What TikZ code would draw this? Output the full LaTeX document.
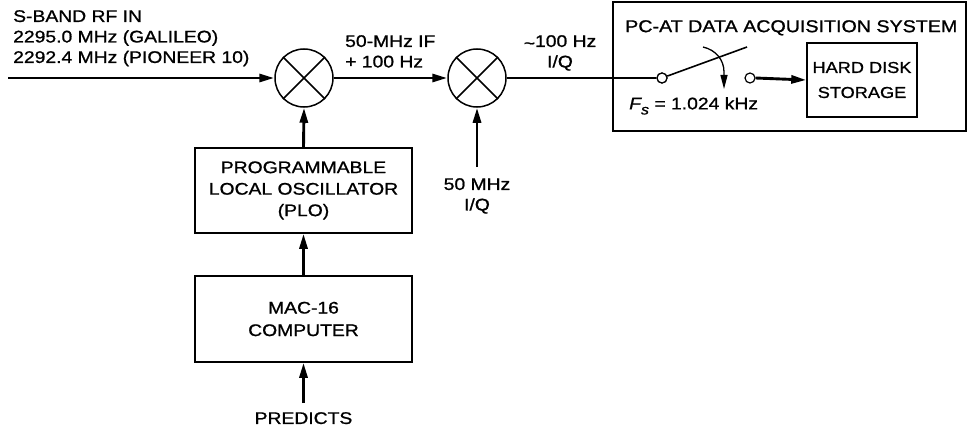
\documentclass[tikz,border=0pt]{standalone}
\usepackage{fontspec}
\setmainfont{Liberation Sans}[FakeStretch=1.15,FakeBold=1]
\usetikzlibrary{arrows.meta}
\begin{document}
\begin{tikzpicture}[x=1pt,y=-1pt,
  lbl/.style={inner sep=0pt,font=\fontsize{16.8}{20.5}\selectfont},
  blk/.style={draw,line width=1.5pt,inner sep=0pt,font=\fontsize{16.8}{21.5}\selectfont,align=center},
  mix/.style={draw,circle,line width=1.5pt,minimum size=58pt,inner sep=0pt},
  swc/.style={draw,circle,line width=1.2pt,minimum size=10pt,inner sep=0pt,fill=white},
  sig/.style={line width=2.9pt},
  sarr/.style={line width=2.9pt,-{Triangle[length=15pt,width=8pt]}},
  tarr/.style={line width=1.3pt,-{Triangle[length=14pt,width=7pt]}}]
\useasboundingbox (0,0) rectangle (968,433);
% blocks
\node[mix] (m1) at (304,78) {};
\node[mix] (m2) at (477,78) {};
\draw[line width=1.5pt] (m1.45)--(m1.225) (m1.135)--(m1.315);
\draw[line width=1.5pt] (m2.45)--(m2.225) (m2.135)--(m2.315);
\node[blk,minimum width=217pt,minimum height=85pt] (plo) at (303.5,190.5)
  {PROGRAMMABLE\\LOCAL OSCILLATOR\\(PLO)};
\node[blk,minimum width=217pt,minimum height=86pt,font=\fontsize{16.8}{22.5}\selectfont] (mac) at (303.5,319)
  {MAC-16\\COMPUTER};
\node[blk,minimum width=353pt,minimum height=129pt] (acq) at (789.5,66.5) {};
\node[blk,minimum width=110pt,minimum height=74pt,font=\fontsize{15.8}{25}\selectfont] (hd) at (862,80)
  {HARD DISK\\STORAGE};
% switch
\node[swc] (sw1) at (662,78) {};
\node[swc] (sw2) at (750,78) {};
\coordinate (lev) at (747,47);
\coordinate (ca) at (703,47);
\coordinate (cb) at (724,89);
\draw[line width=1.6pt] (sw1) -- (lev);
\draw[tarr] (ca) .. controls (716,50) and (724,60) .. (724,72) -- (cb);
% inputs
\coordinate (rfin) at (8,78);
\coordinate (lo50) at (477,167);
\coordinate (pred) at (303.5,403);
\draw[sarr] (rfin) -- (m1.west);
\draw[sarr] (m1.east) -- (m2.west);
\draw[sig] (m2.east) -- (sw1.west);
\draw[sarr] (sw2.east) -- (hd.west);
\draw[sarr] (plo.north) -- (m1.south);
\draw[sarr] (mac.north) -- (plo.south);
\draw[sarr] (pred) -- (mac.south);
\draw[sarr] (lo50) -- (m2.south);
\node[swc] at (sw1) {};
% labels
\node[lbl,anchor=north west,align=left] (trf) at (13,10)
  {S-BAND RF IN\\2295.0 MHz (GALILEO)\\2292.4 MHz (PIONEER 10)};
\node[lbl,anchor=north west,align=left] (tif) at (345,35)
  {50-MHz IF\\+ 100 Hz};
\node[lbl,anchor=north,align=center] (tiq) at (560,35)
  {\raisebox{-0.12em}{\textasciitilde}100 Hz\\I/Q};
\node[lbl,anchor=north west,font=\fontsize{17.1}{20}\selectfont] (tacq) at (625,20) {PC-AT DATA ACQUISITION SYSTEM};
\node[lbl,anchor=north west] (tfs) at (629,97)
  {{\itshape F}\raisebox{-0.3em}{\fontsize{14}{14}\selectfont\itshape s} = 1.024 kHz};
\node[lbl,anchor=north,align=center] (t50) at (477,178) {50 MHz\\I/Q};
\node[lbl,anchor=north] (tpred) at (303.5,412) {PREDICTS};
\end{tikzpicture}
\end{document}
